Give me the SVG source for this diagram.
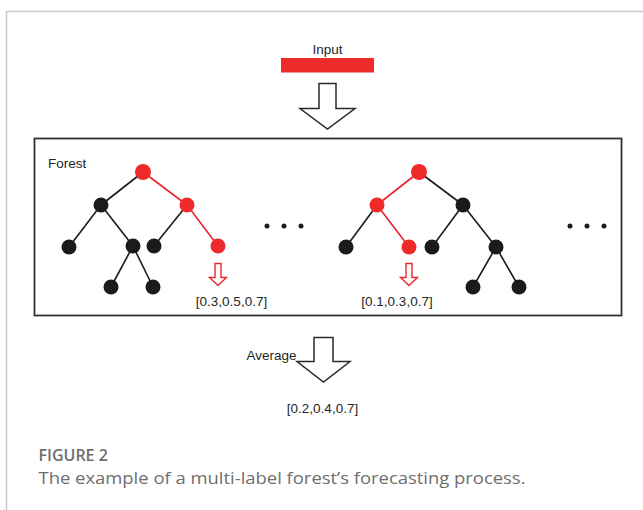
<svg xmlns="http://www.w3.org/2000/svg" width="643" height="510" viewBox="0 0 643 510">
<defs>
<style>
.lbl{font-family:"Liberation Sans",Arial,sans-serif;font-size:13.5px;fill:#262626}
.blk{fill:#1b1b1b}
.red{fill:#ee2a2a}
.eb{stroke:#1b1b1b;stroke-width:1.6;fill:none}
.er{stroke:#e8262b;stroke-width:1.6;fill:none}
.hollow{fill:#fff;stroke:#2a2a2a;stroke-width:1.5;stroke-linejoin:miter}
.hred{fill:#fff;stroke:#e8262b;stroke-width:1.4}
.dot{fill:#1b1b1b}
.cap{font-family:"Open Sans","Noto Sans",sans-serif;fill:#6e6e6e}
</style>
</defs>
<rect width="643" height="510" fill="#fff"/>
<path d="M6.5 510 V11.5 H643" fill="none" stroke="#c8c8c8" stroke-width="1.5"/>

<g id="input">
<text class="lbl" x="327.5" y="54" text-anchor="middle">Input</text>
<rect x="281" y="58" width="93" height="14.5" fill="#ee2a2a"/>
</g>
<g id="arrow-input">
<polygon class="hollow" points="319,83.5 336,83.5 336,108.5 355,108.5 327.5,129 300,108.5 319,108.5"/>
</g>

<g id="forest">
<rect x="34.5" y="138.5" width="587" height="177" fill="none" stroke="#333" stroke-width="1.8"/>
<text class="lbl" x="48" y="168">Forest</text>
</g>

<g id="connectors">
<line class="eb" x1="143" y1="172" x2="101" y2="205"/>
<line class="er" x1="143" y1="172" x2="187" y2="205"/>
<line class="eb" x1="101" y1="205" x2="69" y2="247"/>
<line class="eb" x1="101" y1="205" x2="133" y2="246"/>
<line class="eb" x1="133" y1="246" x2="111" y2="287"/>
<line class="eb" x1="133" y1="246" x2="153" y2="287"/>
<line class="eb" x1="187" y1="205" x2="154" y2="246"/>
<line class="er" x1="187" y1="205" x2="218" y2="246"/>
<line class="er" x1="419" y1="172" x2="377" y2="205"/>
<line class="eb" x1="419" y1="172" x2="463" y2="205"/>
<line class="eb" x1="377" y1="205" x2="346" y2="247"/>
<line class="er" x1="377" y1="205" x2="409" y2="247"/>
<line class="eb" x1="463" y1="205" x2="432" y2="247"/>
<line class="eb" x1="463" y1="205" x2="496" y2="247"/>
<line class="eb" x1="496" y1="247" x2="473" y2="287"/>
<line class="eb" x1="496" y1="247" x2="519" y2="287"/>
</g>

<g id="tree1">
<circle id="t1-root" class="red" cx="143" cy="172" r="8"/>
<circle id="t1-l" class="blk" cx="101" cy="205" r="7.5"/>
<circle id="t1-r" class="red" cx="187" cy="205" r="7.5"/>
<circle id="t1-ll" class="blk" cx="69" cy="247" r="7.5"/>
<circle id="t1-lr" class="blk" cx="133" cy="246" r="7.5"/>
<circle id="t1-rl" class="blk" cx="154" cy="246" r="7.5"/>
<circle id="t1-rr" class="red" cx="218" cy="246" r="7.5"/>
<circle id="t1-lrl" class="blk" cx="111" cy="287" r="7.5"/>
<circle id="t1-lrr" class="blk" cx="153" cy="287" r="7.5"/>
</g>
<g id="out1">
<polygon class="hred" points="215,263.5 221,263.5 221,277.5 226.5,277.5 218,285.5 209.5,277.5 215,277.5"/>
<text class="lbl" x="231.5" y="305.5" text-anchor="middle">[0.3,0.5,0.7]</text>
</g>
<g id="dots1">
<circle class="dot" cx="267" cy="226" r="2.5"/>
<circle class="dot" cx="284" cy="226" r="2.5"/>
<circle class="dot" cx="301" cy="226" r="2.5"/>
</g>

<g id="tree2">
<circle id="t2-root" class="red" cx="419" cy="172" r="8"/>
<circle id="t2-l" class="red" cx="377" cy="205" r="7.5"/>
<circle id="t2-r" class="blk" cx="463" cy="205" r="7.5"/>
<circle id="t2-ll" class="blk" cx="346" cy="247" r="7.5"/>
<circle id="t2-lr" class="red" cx="409" cy="247" r="7.5"/>
<circle id="t2-rl" class="blk" cx="432" cy="247" r="7.5"/>
<circle id="t2-rr" class="blk" cx="496" cy="247" r="7.5"/>
<circle id="t2-rrl" class="blk" cx="473" cy="287" r="7.5"/>
<circle id="t2-rrr" class="blk" cx="519" cy="287" r="7.5"/>
</g>
<g id="out2">
<polygon class="hred" points="406,263.5 412,263.5 412,277.5 417.5,277.5 409,285.5 400.5,277.5 406,277.5"/>
<text class="lbl" x="397" y="305.5" text-anchor="middle">[0.1,0.3,0.7]</text>
</g>
<g id="dots2">
<circle class="dot" cx="570" cy="226" r="2.5"/>
<circle class="dot" cx="587" cy="226" r="2.5"/>
<circle class="dot" cx="604" cy="226" r="2.5"/>
</g>

<g id="average">
<text class="lbl" x="246.5" y="360">Average</text>
<polygon class="hollow" points="314,337.5 333,337.5 333,361.5 350,361.5 323.5,382 297,361.5 314,361.5"/>
</g>
<g id="result">
<text class="lbl" x="322.5" y="413" text-anchor="middle">[0.2,0.4,0.7]</text>
</g>

<g id="caption">
<text class="cap" x="38.5" y="461" font-size="16" font-weight="600">FIGURE 2</text>
<text class="cap" x="38.5" y="483.5" font-size="16" textLength="487" lengthAdjust="spacingAndGlyphs">The example of a multi-label forest’s forecasting process.</text>
</g>
</svg>
